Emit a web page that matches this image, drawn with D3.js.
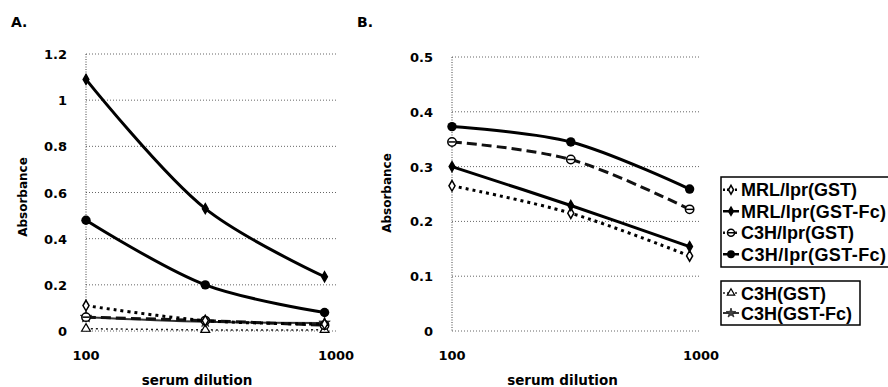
<!DOCTYPE html>
<meta charset="utf-8">
<script src="https://d3js.org/d3.v7.min.js"></script>
<style>
  body { margin: 0; background: #fff; }
  text { fill: #000; }
</style>
<body>
<div id="chart"></div>
<script>

// dilutions used on the x axis (log scale)
var dilutions = [100, 300, 900];
var xTicks = [100, 1000];

// panel A values (absorbance)
var aMrlGst     = [0.11, 0.045, 0.03];
var aMrlGstFc   = [1.09, 0.53, 0.235];
var aC3hlGst    = [0.06, 0.045, 0.025];
var aC3hlGstFc  = [0.48, 0.20, 0.08];
var aC3hGst     = [0.01, 0.005, 0.005];
var aC3hGstFc   = [0.06, 0.04, 0.035];

// panel B values (absorbance)
var bMrlGst     = [0.265, 0.215, 0.137];
var bMrlGstFc   = [0.300, 0.229, 0.154];
var bC3hlGst    = [0.345, 0.313, 0.222];
var bC3hlGstFc  = [0.373, 0.345, 0.259];

var aTicks = [0, 0.2, 0.4, 0.6, 0.8, 1, 1.2];
var bTicks = [0, 0.1, 0.2, 0.3, 0.4, 0.5];

var legend1 = ["MRL/lpr(GST)", "MRL/lpr(GST-Fc)", "C3H/lpr(GST)", "C3H/lpr(GST-Fc)"];
var legend2 = ["C3H(GST)", "C3H(GST-Fc)"];

// line + marker style per series
var styles = {
  "MRL/lpr(GST)":    {dash: "3,4",  width: 3,   color: "#000", marker: "diamondOpen"},
  "MRL/lpr(GST-Fc)": {dash: null,   width: 3,   color: "#000", marker: "diamond"},
  "C3H/lpr(GST)":    {dash: "10,5", width: 3,   color: "#111", marker: "circleOpen"},
  "C3H/lpr(GST-Fc)": {dash: null,   width: 3,   color: "#000", marker: "circle"},
  "C3H(GST)":        {dash: "2,3",  width: 1.5, color: "#222", marker: "triangle"},
  "C3H(GST-Fc)":     {dash: null,   width: 2,   color: "#333", marker: "star"}
};

var svg = d3.select("#chart").append("svg")
  .attr("width", 888).attr("height", 387)
  .style("font-family", "'DejaVu Sans', Verdana, sans-serif");

function drawMarker(g, kind, cx, cy, k) {
  k = k || 1;
  if (kind == "diamond" || kind == "diamondOpen") {
    g.append("path")
      .attr("d", d3.symbol().type(d3.symbolDiamond).size((kind == "diamond" ? 28 : 32) * k)())
      .attr("transform", "translate(" + cx + "," + cy + ")")
      .attr("fill", kind == "diamond" ? "#000" : "#fff")
      .attr("stroke", "#000").attr("stroke-width", 1.5);
  } else if (kind == "circle") {
    g.append("circle").attr("cx", cx).attr("cy", cy).attr("r", 4.7 * Math.sqrt(k)).attr("fill", "#000");
  } else if (kind == "circleOpen") {
    g.append("circle").attr("cx", cx).attr("cy", cy).attr("r", 4.2 * Math.sqrt(k))
      .attr("fill", "#fff").attr("stroke", "#000").attr("stroke-width", 1.5);
    g.append("line").attr("x1", cx - 3.5).attr("x2", cx + 3.5).attr("y1", cy).attr("y2", cy)
      .attr("stroke", "#000").attr("stroke-width", 1.5);
  } else if (kind == "triangle") {
    g.append("path")
      .attr("d", d3.symbol().type(d3.symbolTriangle).size(34 * k)())
      .attr("transform", "translate(" + cx + "," + cy + ")")
      .attr("fill", "#fff").attr("stroke", "#000").attr("stroke-width", 1.2);
  } else if (kind == "star") {
    g.append("path")
      .attr("d", d3.symbol().type(d3.symbolStar).size(40 * k)())
      .attr("transform", "translate(" + cx + "," + cy + ")")
      .attr("fill", "#444").attr("stroke", "#222").attr("stroke-width", 0.8);
  }
}

function panel(opts) {
  var x = d3.scaleLog().domain([100, 1000]).range([opts.left, opts.right]);
  var y = d3.scaleLinear().domain([0, opts.max]).range([opts.bottom, opts.top]);
  var g = svg.append("g");

  // dotted grid
  g.selectAll(".grid").data(opts.ticks).enter().append("line")
    .attr("x1", opts.left).attr("x2", opts.right)
    .attr("y1", function(d) { return y(d); }).attr("y2", function(d) { return y(d); })
    .attr("stroke", "#666").attr("stroke-width", 1).attr("stroke-dasharray", "1,2");
  g.append("line")
    .attr("x1", opts.left).attr("x2", opts.left)
    .attr("y1", opts.top).attr("y2", opts.bottom)
    .attr("stroke", "#444").attr("stroke-width", 1).attr("stroke-dasharray", "1,1.5");

  // y tick labels
  g.selectAll(".yl").data(opts.ticks).enter().append("text")
    .attr("x", opts.left - 19).attr("y", function(d) { return y(d) + 5; })
    .attr("text-anchor", "end").attr("font-size", 13).attr("font-weight", "bold")
    .text(function(d) { return d; });

  // x tick labels
  g.selectAll(".xl").data(xTicks).enter().append("text")
    .attr("x", function(d) { return x(d); }).attr("y", opts.bottom + 29)
    .attr("text-anchor", "middle").attr("font-size", 13).attr("font-weight", "bold")
    .text(function(d) { return d; });

  g.append("text")
    .attr("x", (opts.left + opts.right) / 2 - 14).attr("y", 385)
    .attr("text-anchor", "middle").attr("font-size", 13.5).attr("font-weight", "bold")
    .text("serum dilution");

  g.append("text")
    .attr("transform", "translate(" + opts.ylabelX + "," + opts.ylabelY + ") rotate(-90)")
    .attr("text-anchor", "middle").attr("font-size", 12).attr("font-weight", "bold")
    .text("Absorbance");

  g.append("text")
    .attr("x", opts.letterX).attr("y", 27)
    .attr("font-size", 14).attr("font-weight", "bold")
    .text(opts.letter);

  var line = d3.line()
    .x(function(d, i) { return x(dilutions[i]); })
    .y(function(d) { return y(d); })
    .curve(d3.curveCatmullRom.alpha(0.5));

  opts.series.forEach(function(s) {
    var st = styles[s.name];
    g.append("path").datum(s.values)
      .attr("d", line)
      .attr("fill", "none")
      .attr("stroke", st.color)
      .attr("stroke-width", st.width)
      .attr("stroke-dasharray", st.dash);
    s.values.forEach(function(v, i) {
      drawMarker(g, st.marker, x(dilutions[i]), y(v));
    });
  });
}

panel({
  left: 86, right: 336, top: 54, bottom: 331, max: 1.2, ticks: aTicks,
  ylabelX: 27, ylabelY: 197, letter: "A.", letterX: 11,
  series: [
    {name: "C3H(GST)", values: aC3hGst},
    {name: "C3H(GST-Fc)", values: aC3hGstFc},
    {name: "C3H/lpr(GST)", values: aC3hlGst},
    {name: "MRL/lpr(GST)", values: aMrlGst},
    {name: "C3H/lpr(GST-Fc)", values: aC3hlGstFc},
    {name: "MRL/lpr(GST-Fc)", values: aMrlGstFc}
  ]
});

panel({
  left: 452, right: 701, top: 57, bottom: 331, max: 0.5, ticks: bTicks,
  ylabelX: 391, ylabelY: 193, letter: "B.", letterX: 357,
  series: [
    {name: "MRL/lpr(GST)", values: bMrlGst},
    {name: "MRL/lpr(GST-Fc)", values: bMrlGstFc},
    {name: "C3H/lpr(GST)", values: bC3hlGst},
    {name: "C3H/lpr(GST-Fc)", values: bC3hlGstFc}
  ]
});

// legends
function legendBox(names, x0, y0, w, rowH) {
  var g = svg.append("g");
  g.append("rect").attr("x", x0).attr("y", y0)
    .attr("width", w).attr("height", names.length * rowH + 4)
    .attr("fill", "#fff").attr("stroke", "#000").attr("stroke-width", 1.5);
  names.forEach(function(n, i) {
    var st = styles[n];
    var cy = y0 + 2 + rowH * i + rowH / 2;
    g.append("line").attr("x1", x0 + 2).attr("x2", x0 + 18)
      .attr("y1", cy).attr("y2", cy)
      .attr("stroke", st.color).attr("stroke-width", Math.min(st.width, 2.5))
      .attr("stroke-dasharray", st.dash ? "2,2" : null);
    drawMarker(g, st.marker, x0 + 10, cy, 0.7);
    g.append("text").attr("x", x0 + 20).attr("y", cy + 6.5)
      .attr("font-family", "'Liberation Sans', Arial, sans-serif")
      .attr("font-size", 18).attr("font-weight", "bold")
      .attr("textLength", n.length > 12 ? 145 : null)
      .text(n);
  });
}

legendBox(legend1, 721, 177, 170, 21.5);
legendBox(legend2, 721, 281, 139, 20);

</script>
</body>
